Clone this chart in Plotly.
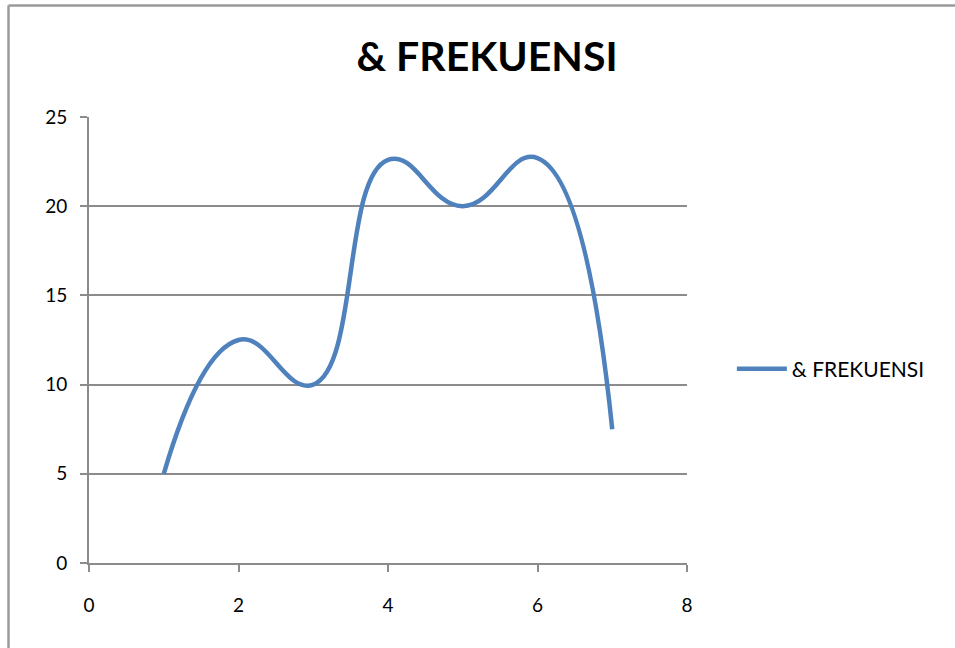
import plotly.graph_objects as go

# Frequency series
x_vals = [1, 2, 3, 4, 5, 6, 7]
frekuensi = [5, 12.5, 10, 22.6, 20, 22.7, 7.5]

series_name = "& FREKUENSI"
x_ticks = [0, 2, 4, 6, 8]
y_ticks = [0, 5, 10, 15, 20, 25]

FONT = "Lato"
GRID = "#8c8c8c"
BLUE = "#4F81BD"

fig = go.Figure()
fig.add_trace(go.Scatter(
    x=x_vals, y=frekuensi, mode="lines", name=series_name,
    line=dict(color=BLUE, width=4.5, shape="spline", smoothing=1.3),
    showlegend=True,
))

# chart-area frame (left and top edges visible)
frame = dict(type="line", xref="paper", yref="paper",
             line=dict(color="#9a9a9a", width=2.5), layer="above")
fig.add_shape(**frame, x0=-0.1346, x1=-0.1346, y0=-0.3, y1=1.25)
fig.add_shape(**frame, x0=-0.1346, x1=1.6, y0=1.25, y1=1.25)

fig.update_layout(
    width=955, height=648,
    margin=dict(l=89, r=268, t=117, b=85),
    paper_bgcolor="white", plot_bgcolor="white",
    font=dict(family=FONT, size=19, color="#000000"),
    title=dict(text="<b>& FREKUENSI</b>", x=0.51, xref="container", xanchor="center",
               y=1 - 57 / 648, yref="container", yanchor="middle",
               font=dict(family=FONT, size=41, color="#000000")),
    legend=dict(x=1.075, y=0.435, xanchor="left", yanchor="middle",
                itemwidth=50,
                font=dict(family=FONT, size=21), bgcolor="rgba(0,0,0,0)"),
    xaxis=dict(range=[0, 8], tickvals=x_ticks, showgrid=False, zeroline=False,
               showline=True, linecolor=GRID, linewidth=2,
               ticks="outside", ticklen=7, tickcolor=GRID, tickwidth=1.5,
               ticklabelstandoff=17),
    yaxis=dict(range=[0, 25], tickvals=y_ticks, showgrid=True, gridcolor=GRID,
               gridwidth=1.5, zeroline=False, showline=True, linecolor=GRID,
               linewidth=2, ticks="outside", ticklen=7, tickcolor=GRID,
               tickwidth=1.5, ticklabelstandoff=9),
)

fig.write_html("out.html")
